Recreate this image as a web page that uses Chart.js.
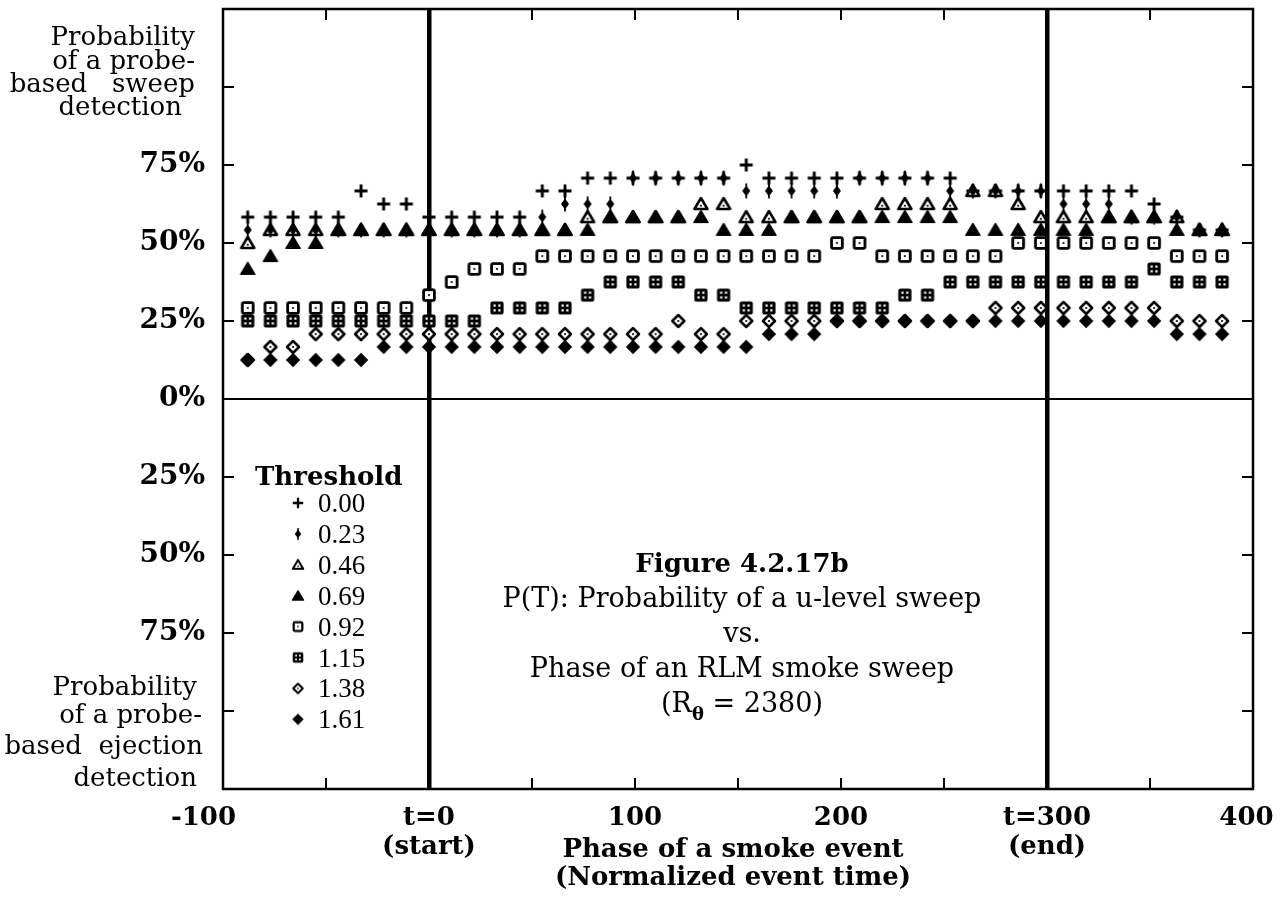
<!DOCTYPE html>
<html>
<head>
<meta charset="utf-8">
<title>Figure 4.2.17b</title>
<script src="https://cdn.jsdelivr.net/npm/chart.js@4.4.1/dist/chart.umd.min.js"></script>
<style>
  html, body { margin: 0; padding: 0; background: #fff; }
  #wrap { width: 1287px; height: 903px; position: relative; }
</style>
</head>
<body>
<div id="wrap"><canvas id="chart"></canvas></div>
<script>
// normalized phase of the smoke event (t=0 start, t=300 end)
var phase = [-88, -77, -66, -55, -44, -33, -22, -11, 0, 11, 22, 33, 44, 55, 66, 77, 88, 99, 110, 121, 132, 143,
             154, 165, 176, 187, 198, 209, 220, 231, 242, 253, 264, 275, 286, 297, 308, 319, 330, 341, 352, 363, 374, 385];

var thresholds = ["0.00", "0.23", "0.46", "0.69", "0.92", "1.15", "1.38", "1.61"];

// probability of a u-level sweep (%), one array per threshold
var p000 = [58.3, 58.3, 58.3, 58.3, 58.3, 66.7, 62.5, 62.5,
            58.3, 58.3, 58.3, 58.3, 58.3, 66.7, 66.7, 70.8, 70.8, 70.8,
            70.8, 70.8, 70.8, 70.8, 75, 70.8, 70.8, 70.8, 70.8, 70.8,
            70.8, 70.8, 70.8, 70.8, 66.7, 66.7, 66.7, 66.7, 66.7, 66.7,
            66.7, 66.7, 62.5, 58.3, 54.2, 54.2];
var p023 = [54.2, 54.2, 54.2, 54.2, 54.2, 54.2, 54.2, 54.2,
            54.2, 54.2, 54.2, 54.2, 54.2, 58.3, 62.5, 62.5, 62.5, 70.8,
            70.8, 70.8, 70.8, 70.8, 66.7, 66.7, 66.7, 66.7, 66.7, 70.8,
            70.8, 70.8, 70.8, 66.7, 66.7, 66.7, 66.7, 66.7, 62.5, 62.5,
            62.5, 58.3, 58.3, 58.3, 54.2, 54.2];
var p046 = [50, 54.2, 54.2, 54.2, 54.2, 54.2, 54.2, 54.2,
            54.2, 54.2, 54.2, 54.2, 54.2, 54.2, 54.2, 58.3, 58.3, 58.3,
            58.3, 58.3, 62.5, 62.5, 58.3, 58.3, 58.3, 58.3, 58.3, 58.3,
            62.5, 62.5, 62.5, 62.5, 66.7, 66.7, 62.5, 58.3, 58.3, 58.3,
            58.3, 58.3, 58.3, 58.3, 54.2, 54.2];
var p069 = [41.7, 45.8, 50, 50, 54.2, 54.2, 54.2, 54.2,
            54.2, 54.2, 54.2, 54.2, 54.2, 54.2, 54.2, 54.2, 58.3, 58.3,
            58.3, 58.3, 58.3, 54.2, 54.2, 54.2, 58.3, 58.3, 58.3, 58.3,
            58.3, 58.3, 58.3, 58.3, 54.2, 54.2, 54.2, 54.2, 54.2, 54.2,
            58.3, 58.3, 58.3, 54.2, 54.2, 54.2];
var p092 = [29.2, 29.2, 29.2, 29.2, 29.2, 29.2, 29.2, 29.2,
            33.3, 37.5, 41.7, 41.7, 41.7, 45.8, 45.8, 45.8, 45.8, 45.8,
            45.8, 45.8, 45.8, 45.8, 45.8, 45.8, 45.8, 45.8, 50, 50,
            45.8, 45.8, 45.8, 45.8, 45.8, 45.8, 50, 50, 50, 50,
            50, 50, 50, 45.8, 45.8, 45.8];
var p115 = [25, 25, 25, 25, 25, 25, 25, 25,
            25, 25, 25, 29.2, 29.2, 29.2, 29.2, 33.3, 37.5, 37.5,
            37.5, 37.5, 33.3, 33.3, 29.2, 29.2, 29.2, 29.2, 29.2, 29.2,
            29.2, 33.3, 33.3, 37.5, 37.5, 37.5, 37.5, 37.5, 37.5, 37.5,
            37.5, 37.5, 41.7, 37.5, 37.5, 37.5];
var p138 = [12.5, 16.7, 16.7, 20.8, 20.8, 20.8, 20.8, 20.8,
            20.8, 20.8, 20.8, 20.8, 20.8, 20.8, 20.8, 20.8, 20.8, 20.8,
            20.8, 25, 20.8, 20.8, 25, 25, 25, 25, 25, 25,
            25, 25, 25, 25, 25, 29.2, 29.2, 29.2, 29.2, 29.2,
            29.2, 29.2, 29.2, 25, 25, 25];
var p161 = [12.5, 12.5, 12.5, 12.5, 12.5, 12.5, 16.7, 16.7,
            16.7, 16.7, 16.7, 16.7, 16.7, 16.7, 16.7, 16.7, 16.7, 16.7,
            16.7, 16.7, 16.7, 16.7, 16.7, 20.8, 20.8, 20.8, 25, 25,
            25, 25, 25, 25, 25, 25, 25, 25, 25, 25,
            25, 25, 25, 20.8, 20.8, 20.8];

// axis tick labels
var xTickValues = [-100, 0, 100, 200, 300, 400];
var xTickText = ["-100\u2003\u2002", ["t=0", "(start)"], "100", "200", ["t=300", "(end)"], "400\u2002"];
var yTickValues = [75, 50, 25, 0, -25, -50, -75];
var yTickText = ["75%", "50%", "25%", "0%", "25%", "50%", "75%"];

var series = [p000, p023, p046, p069, p092, p115, p138, p161];
var markerKinds = ["plus", "spike", "triOpen", "triFill", "sqOpen", "sqDots", "diaOpen", "diaFill"];
// stacking of the symbols (higher = drawn first / underneath)
var drawOrder = [7, 4, 6, 5, 3, 2, 1, 0];

function makeMarker(kind, s) {
    var c = document.createElement("canvas");
    c.width = 20;
    c.height = 20;
    var g = c.getContext("2d");
    g.translate(10, 10);
    g.scale(s, s);
    g.fillStyle = "#000";
    g.strokeStyle = "#000";
    g.lineJoin = "round";
    if (kind == "plus") {
        g.lineWidth = 2.9;
        g.beginPath();
        g.moveTo(-6.5, 0); g.lineTo(6.5, 0);
        g.moveTo(0, -6.5); g.lineTo(0, 6.5);
        g.stroke();
    } else if (kind == "spike") {
        g.lineWidth = 1.8;
        g.beginPath();
        g.moveTo(0, -7.5); g.lineTo(0, 7.5);
        g.stroke();
        g.beginPath();
        g.moveTo(0, -5.5); g.lineTo(4, 0); g.lineTo(0, 5.5); g.lineTo(-4, 0);
        g.closePath();
        g.fill();
    } else if (kind == "triOpen") {
        g.lineWidth = 2.6;
        g.beginPath();
        g.moveTo(0, -6); g.lineTo(6.5, 5); g.lineTo(-6.5, 5);
        g.closePath();
        g.fillStyle = "#fff";
        g.fill();
        g.stroke();
        g.fillStyle = "#000";
        g.fillRect(-0.9, 0.8, 1.8, 1.8);
    } else if (kind == "triFill") {
        g.lineWidth = 1.6;
        g.beginPath();
        g.moveTo(0, -6.3); g.lineTo(7, 5.3); g.lineTo(-7, 5.3);
        g.closePath();
        g.fill();
        g.stroke();
    } else if (kind == "sqOpen") {
        g.lineWidth = 2.8;
        g.beginPath();
        g.roundRect(-5.4, -5.4, 10.8, 10.8, 1.6);
        g.fillStyle = "#fff";
        g.fill();
        g.stroke();
        g.fillStyle = "#000";
        g.fillRect(-0.9, -0.9, 1.8, 1.8);
    } else if (kind == "sqDots") {
        g.beginPath();
        g.roundRect(-6.6, -6.6, 13.2, 13.2, 2.2);
        g.fill();
        g.fillStyle = "#fff";
        g.fillRect(-3.5, -3.5, 2.2, 2.2);
        g.fillRect(1.3, -3.5, 2.2, 2.2);
        g.fillRect(-3.5, 1.3, 2.2, 2.2);
        g.fillRect(1.3, 1.3, 2.2, 2.2);
    } else if (kind == "diaOpen") {
        g.lineWidth = 2.5;
        g.beginPath();
        g.moveTo(0, -6); g.lineTo(6, 0); g.lineTo(0, 6); g.lineTo(-6, 0);
        g.closePath();
        g.fillStyle = "#fff";
        g.fill();
        g.stroke();
        g.fillStyle = "#000";
        g.fillRect(-0.9, -0.9, 1.8, 1.8);
    } else if (kind == "diaFill") {
        g.beginPath();
        g.moveTo(0, -7.2); g.lineTo(7.2, 0); g.lineTo(0, 7.2); g.lineTo(-7.2, 0);
        g.closePath();
        g.fill();
    }
    return c;
}

var plotMarkers = markerKinds.map(function (k) { return makeMarker(k, 1); });
var legendMarkers = markerKinds.map(function (k) { return makeMarker(k, 0.8); });

var datasets = series.map(function (vals, i) {
    return {
        label: thresholds[i],
        data: vals.map(function (v, j) { return {x: phase[j], y: v}; }),
        pointStyle: plotMarkers[i],
        pointRadius: 7,
        pointHoverRadius: 7,
        showLine: false,
        order: drawOrder[i]
    };
});

function txt(ctx, s, x, y, font, align) {
    ctx.font = font;
    ctx.textAlign = align;
    ctx.textBaseline = "alphabetic";
    ctx.fillText(s, x, y);
}

var decor = {
    id: "decor",
    beforeDatasetsDraw: function (chart) {
        var ctx = chart.ctx;
        var a = chart.chartArea;
        var xs = chart.scales.x, ys = chart.scales.y;
        ctx.save();
        ctx.strokeStyle = "#000";
        ctx.lineWidth = 2;
        ctx.beginPath();
        ys.ticks.forEach(function (t) {
            if (t.value <= ys.min || t.value >= ys.max) return;
            var py = ys.getPixelForValue(t.value);
            ctx.moveTo(a.left, py); ctx.lineTo(a.left + 11, py);
            ctx.moveTo(a.right, py); ctx.lineTo(a.right - 11, py);
        });
        xs.ticks.forEach(function (t) {
            if (t.value <= xs.min || t.value >= xs.max) return;
            var px = xs.getPixelForValue(t.value);
            ctx.moveTo(px, a.bottom); ctx.lineTo(px, a.bottom - 11);
            ctx.moveTo(px, a.top); ctx.lineTo(px, a.top + 11);
        });
        ctx.stroke();
        ctx.lineWidth = 2.5;
        ctx.strokeRect(a.left, a.top, a.right - a.left, a.bottom - a.top);
        ctx.restore();
    },
    afterDraw: function (chart) {
        var ctx = chart.ctx;
        ctx.save();
        ctx.fillStyle = "#000";
        var reg = "26px 'DejaVu Serif'";
        var bold = "bold 26px 'DejaVu Serif'";

        // y axis side texts
        txt(ctx, "Probability", 195, 45, reg, "right");
        txt(ctx, "of a probe-", 195, 68.5, reg, "right");
        txt(ctx, "based   sweep", 195, 91.5, reg, "right");
        txt(ctx, "detection", 182, 115, reg, "right");

        txt(ctx, "Probability", 197, 695, reg, "right");
        txt(ctx, "of a probe-", 202, 723, reg, "right");
        txt(ctx, "based  ejection", 203, 754, reg, "right");
        txt(ctx, "detection", 197, 786, reg, "right");

        // legend
        txt(ctx, "Threshold", 255, 485, bold, "left");
        for (var i = 0; i < thresholds.length; i++) {
            var by = 512 + i * 30.9;
            var m = legendMarkers[i];
            ctx.drawImage(m, 298 - m.width / 2, by - 9 - m.height / 2);
            txt(ctx, thresholds[i], 318, by, "27px 'Liberation Serif'", "left");
        }

        // caption
        var cx = 742;
        txt(ctx, "Figure 4.2.17b", cx, 572, bold, "center");
        var cap = "27px 'DejaVu Serif'";
        txt(ctx, "P(T): Probability of a u-level sweep", cx, 607, cap, "center");
        txt(ctx, "vs.", cx, 642, cap, "center");
        txt(ctx, "Phase of an RLM smoke sweep", cx, 677, cap, "center");
        ctx.font = cap;
        var w1 = ctx.measureText("(R").width;
        var w3 = ctx.measureText(" = 2380)").width;
        ctx.font = "bold 18px 'DejaVu Serif'";
        var w2 = ctx.measureText("\u03b8").width;
        var sx = cx - (w1 + w2 + w3) / 2;
        txt(ctx, "(R", sx, 712, cap, "left");
        txt(ctx, "\u03b8", sx + w1, 720, "bold 18px 'DejaVu Serif'", "left");
        txt(ctx, " = 2380)", sx + w1 + w2, 712, cap, "left");

        // x axis title
        txt(ctx, "Phase of a smoke event", 733, 857, bold, "center");
        txt(ctx, "(Normalized event time)", 733, 885, bold, "center");
        ctx.restore();
    }
};

new Chart(document.getElementById("chart"), {
    type: "scatter",
    data: {datasets: datasets},
    plugins: [decor],
    options: {
        responsive: true,
        maintainAspectRatio: false,
        animation: false,
        events: [],
        layout: {padding: {left: 0, right: 34, top: 9, bottom: 0}},
        plugins: {
            legend: {display: false},
            tooltip: {enabled: false}
        },
        scales: {
            x: {
                type: "linear",
                min: -100,
                max: 400,
                ticks: {
                    stepSize: 50,
                    autoSkip: false,
                    maxRotation: 0,
                    padding: 15,
                    color: "#000",
                    font: {family: "'DejaVu Serif'", weight: "bold", size: 26, lineHeight: 1.1},
                    callback: function (v) {
                        var i = xTickValues.indexOf(v);
                        return i < 0 ? "" : xTickText[i];
                    }
                },
                grid: {
                    drawTicks: false,
                    color: function (c) {
                        return c.tick && (c.tick.value === 0 || c.tick.value === 300) ? "#000" : "rgba(0,0,0,0)";
                    },
                    lineWidth: function (c) {
                        return c.tick && (c.tick.value === 0 || c.tick.value === 300) ? 4.5 : 0;
                    }
                },
                border: {display: false},
                afterFit: function (s) {
                    s.height = 114;
                    s.paddingLeft = 0;
                    s.paddingRight = 0;
                }
            },
            y: {
                type: "linear",
                min: -125,
                max: 125,
                ticks: {
                    stepSize: 25,
                    autoSkip: false,
                    padding: 18,
                    color: "#000",
                    font: {family: "'DejaVu Serif'", weight: "bold", size: 28},
                    callback: function (v) {
                        var i = yTickValues.indexOf(v);
                        return i < 0 ? "" : yTickText[i];
                    }
                },
                grid: {
                    drawTicks: false,
                    color: function (c) {
                        return c.tick && c.tick.value === 0 ? "#000" : "rgba(0,0,0,0)";
                    },
                    lineWidth: function (c) {
                        return c.tick && c.tick.value === 0 ? 2 : 0;
                    }
                },
                border: {display: false},
                afterFit: function (s) {
                    s.width = 223;
                    s.paddingTop = 0;
                    s.paddingBottom = 0;
                }
            }
        }
    }
});
</script>
</body>
</html>
